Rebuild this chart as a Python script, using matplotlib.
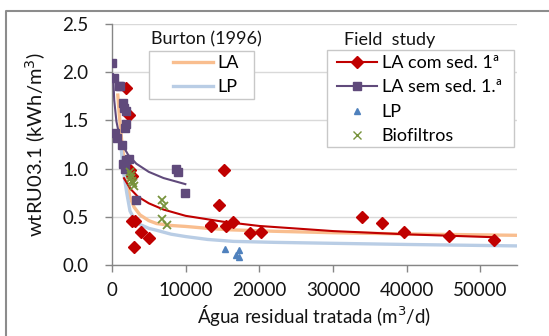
import matplotlib
matplotlib.use("Agg")
import matplotlib.pyplot as plt
from matplotlib.lines import Line2D
from matplotlib.patches import Rectangle

plt.rcParams['font.family'] = ['Lato', 'DejaVu Sans']

# ---- data ----
# Field study: LA com sedimentação primária
la_com_x = [1860, 2310, 2450, 2700, 2670, 3100, 3000, 3900, 5050, 13400, 13400, 14570,
            15150, 15490, 16400, 18750, 20200, 34000, 36650, 39700, 45800, 51900]
la_com_y = [1.84, 1.56, 0.99, 0.92, 0.46, 0.46, 0.19, 0.34, 0.28, 0.40, 0.42, 0.62,
            0.99, 0.40, 0.45, 0.335, 0.34, 0.50, 0.44, 0.34, 0.30, 0.26]
# Field study: LA sem sedimentação primária
la_sem_x = [40, 280, 950, 1100, 1540, 1600, 1860, 1900, 1770, 410, 650, 1310,
            1540, 1720, 1950, 2250, 3220, 8650, 8920, 9960]
la_sem_y = [2.10, 1.94, 1.86, 1.86, 1.68, 1.63, 1.60, 1.46, 1.42, 1.37, 1.32, 1.24,
            1.05, 1.00, 1.09, 1.10, 0.67, 1.00, 0.96, 0.75]
# Field study: LP
lp_x = [15350, 17300, 16900, 17250]
lp_y = [0.17, 0.16, 0.105, 0.08]
# Field study: Biofiltros
bio_x = [2450, 2540, 2700, 2810, 3000, 2600, 6800, 7100, 6850, 7500]
bio_y = [0.96, 0.90, 0.87, 0.85, 0.82, 0.93, 0.67, 0.61, 0.48, 0.41]

# Trend lines
la_com_trend_x = [1630, 2500, 3500, 5000, 7000, 10000, 15000, 20000, 30000, 40000, 52000]
la_com_trend_y = [0.90, 0.79, 0.71, 0.64, 0.575, 0.51, 0.45, 0.405, 0.352, 0.318, 0.288]
la_sem_trend_x = [150, 300, 600, 1000, 1500, 2200, 3300, 5000, 7000, 9960]
la_sem_trend_y = [1.98, 1.71, 1.49, 1.34, 1.235, 1.142, 1.051, 0.966, 0.902, 0.839]

# Burton (1996) curves
burton_la_x = [770, 1000, 1300, 1540, 2000, 2445, 3000, 3800, 5000, 6070, 8000, 10000,
               13000, 16000, 22000, 30000, 40000, 55000]
burton_la_y = [1.78, 1.55, 1.30, 1.15, 0.88, 0.70, 0.60, 0.52, 0.46, 0.43, 0.41, 0.40,
               0.38, 0.365, 0.35, 0.335, 0.322, 0.308]
burton_lp_x = [1200, 1500, 2000, 2445, 3000, 3800, 5000, 6070, 8000, 10000, 13000,
               16480, 22000, 30000, 40000, 55000]
burton_lp_y = [1.25, 1.00, 0.75, 0.56, 0.48, 0.42, 0.38, 0.36, 0.32, 0.295, 0.265,
               0.245, 0.235, 0.225, 0.213, 0.198]

x_ticks = [0, 10000, 20000, 30000, 40000, 50000]
y_ticks = [0.0, 0.5, 1.0, 1.5, 2.0, 2.5]

burton_labels = ['LA', 'LP']
field_labels = ['LA com sed. 1ª', 'LA sem sed. 1.ª', 'LP', 'Biofiltros']

# ---- colours ----
c_red = '#C00000'
c_purple = '#604A7B'
c_blue = '#4F81BD'
c_green = '#77933C'
c_orange_l = '#F9BE8F'
c_blue_l = '#B9CDE5'
c_axis = '#868686'
c_grid = '#D9D9D9'
c_text = '#141414'

W, H = 549, 336
fig = plt.figure(figsize=(W / 100, H / 100), dpi=100)
ax = fig.add_axes([112 / W, 1 - 265 / H, 405 / W, 241 / H])

# outer frame
fig.add_artist(Line2D([6 / W, 6 / W, 1.0], [0.0, 1 - 11 / H, 1 - 11 / H],
                      transform=fig.transFigure, color='#8C8C8C', lw=1.5))

# Burton curves
ax.plot(burton_la_x, burton_la_y, color=c_orange_l, lw=2.4, solid_capstyle='butt', zorder=2)
ax.plot(burton_lp_x, burton_lp_y, color=c_blue_l, lw=2.4, solid_capstyle='butt', zorder=2)

# trend lines
ax.plot(la_com_trend_x, la_com_trend_y, color=c_red, lw=1.5, zorder=3)
ax.plot(la_sem_trend_x, la_sem_trend_y, color=c_purple, lw=1.5, zorder=3)

# scatter points
ax.plot(la_com_x, la_com_y, ls='none', marker='D', ms=6.2, color=c_red, zorder=4)
ax.plot(la_sem_x, la_sem_y, ls='none', marker='s', ms=6.0, color=c_purple, zorder=4)
ax.plot(lp_x, lp_y, ls='none', marker='^', ms=5.0, color=c_blue, zorder=4)
ax.plot(bio_x, bio_y, ls='none', marker='x', ms=6.0, mew=1.3, color=c_green, zorder=4)

ax.set_xlim(0, 55000)
ax.set_ylim(0, 2.5)
ax.set_xticks(x_ticks)
ax.set_xticklabels([str(v) for v in x_ticks])
ax.set_yticks(y_ticks)
ax.set_yticklabels([f'{v:.1f}' for v in y_ticks])
ax.grid(axis='y', color=c_grid, lw=1.0)
ax.set_axisbelow(True)
for s in ['top', 'right']:
    ax.spines[s].set_visible(False)
for s in ['left', 'bottom']:
    ax.spines[s].set_color(c_axis)
    ax.spines[s].set_linewidth(1.0)
ax.tick_params(axis='both', colors=c_axis, labelcolor=c_text, labelsize=13.5,
               length=5, width=1.0, direction='out')
ax.tick_params(axis='x', pad=7)
ax.tick_params(axis='y', pad=12)

ax.set_xlabel('Água residual tratada (m$^3$/d)', fontsize=13.5, color=c_text)
ax.set_ylabel('wtRU03.1 (kWh/m$^3$)', fontsize=14.5, color=c_text)
ax.xaxis.set_label_coords(0.5, (265 - 303) / 241)
ax.yaxis.set_label_coords((48 - 112) / 405, 0.5)

# ---- legend frames (white filled boxes) ----
ax.add_patch(Rectangle((0.0921, 0.6876), 0.3506 - 0.0921, 0.8892 - 0.6876,
                       transform=ax.transAxes, facecolor='white', edgecolor='#C8C8C8',
                       lw=1.0, zorder=5))
ax.add_patch(Rectangle((0.5309, 0.4896), 0.9926 - 0.5309, 0.892 - 0.4896,
                       transform=ax.transAxes, facecolor='white', edgecolor='#C8C8C8',
                       lw=1.0, zorder=5))

# Burton legend
h1 = [Line2D([], [], color=c_orange_l, lw=2.4), Line2D([], [], color=c_blue_l, lw=2.4)]
leg1 = ax.legend(h1, burton_labels, loc='upper left',
                 bbox_to_anchor=((173 - 112) / 405, (265 - 55) / 241),
                 frameon=False, fontsize=13, handlelength=2.2, handletextpad=0.28,
                 borderpad=0, labelspacing=0.47, borderaxespad=0)
leg1.set_zorder(6)
ax.add_artist(leg1)
ax.text(0.097, 0.935, 'Burton (1996)', transform=ax.transAxes, fontsize=13,
        color=c_text, va='center', ha='left')

# Field study legend
h2 = [Line2D([], [], color=c_red, lw=1.5, marker='D', ms=6.2),
      Line2D([], [], color=c_purple, lw=1.5, marker='s', ms=6.0),
      Line2D([], [], ls='none', color=c_blue, marker='^', ms=5.0),
      Line2D([], [], ls='none', color=c_green, marker='x', ms=6.0, mew=1.0)]
leg2 = ax.legend(h2, field_labels, loc='upper left',
                 bbox_to_anchor=((337 - 112) / 405, (265 - 55) / 241),
                 frameon=False, fontsize=13, handlelength=2.2, handletextpad=0.28,
                 borderpad=0, labelspacing=0.47, borderaxespad=0)
leg2.set_zorder(6)
ax.text(0.574, 0.935, 'Field  study', transform=ax.transAxes, fontsize=13,
        color=c_text, va='center', ha='left')

fig.savefig('out.png', dpi=100)
